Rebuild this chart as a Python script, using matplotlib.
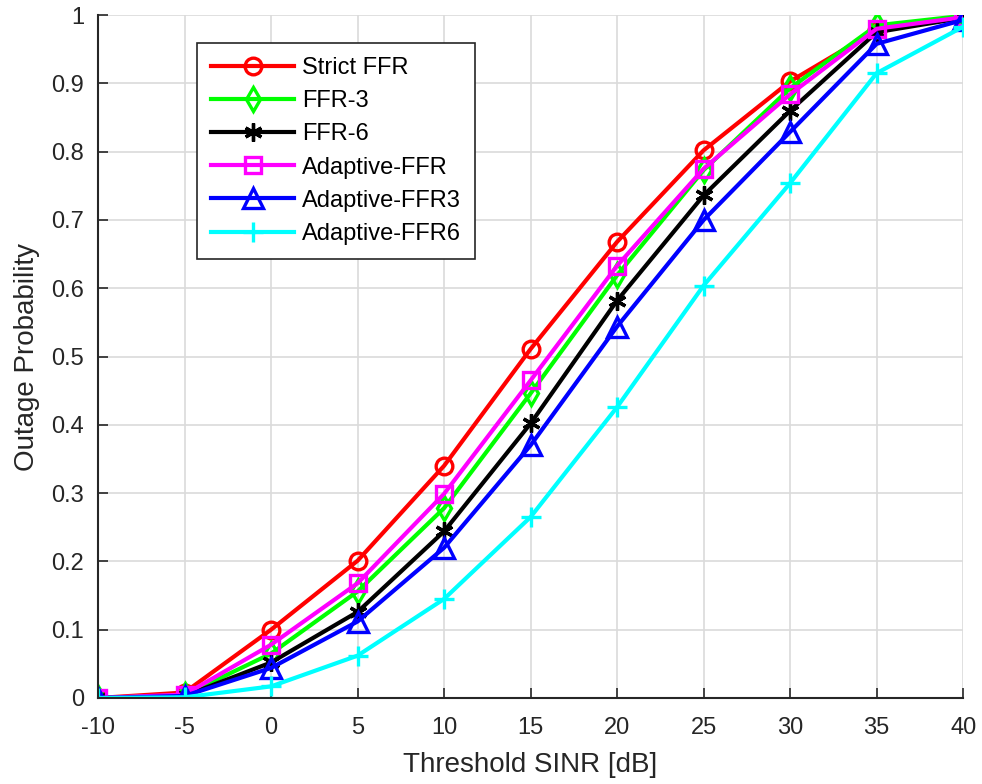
import matplotlib
matplotlib.use("Agg")
import matplotlib.pyplot as plt

plt.rcParams['font.family'] = ['Liberation Sans', 'DejaVu Sans']

sinr = [-10, -5, 0, 5, 10, 15, 20, 25, 30, 35, 40]

strict_ffr = [0.0, 0.008, 0.100, 0.201, 0.340, 0.511, 0.668, 0.802, 0.903, 0.978, 0.998]
ffr3 = [0.0, 0.004, 0.065, 0.156, 0.278, 0.446, 0.619, 0.773, 0.893, 0.985, 0.999]
ffr6 = [0.0, 0.003, 0.052, 0.126, 0.244, 0.402, 0.582, 0.736, 0.860, 0.975, 0.996]
adaptive_ffr = [0.0, 0.005, 0.078, 0.168, 0.299, 0.465, 0.633, 0.775, 0.884, 0.980, 0.997]
adaptive_ffr3 = [0.0, 0.003, 0.044, 0.112, 0.220, 0.370, 0.544, 0.700, 0.829, 0.958, 0.993]
adaptive_ffr6 = [0.0, 0.001, 0.017, 0.062, 0.145, 0.265, 0.426, 0.604, 0.754, 0.915, 0.983]

series = [
    ("Strict FFR", strict_ffr, "#ff0000", "o", 12),
    ("FFR-3", ffr3, "#00ff00", "d", 12),
    ("FFR-6", ffr6, "#000000", (6, 2, 0), 13),
    ("Adaptive-FFR", adaptive_ffr, "#ff00ff", "s", 11),
    ("Adaptive-FFR3", adaptive_ffr3, "#0000ff", "^", 14),
    ("Adaptive-FFR6", adaptive_ffr6, "#00ffff", "+", 14),
]

fig = plt.figure(figsize=(9.82, 7.84), dpi=100)
ax = fig.add_axes([0.0998, 0.1097, 0.881, 0.871])

for name, vals, col, mk, ms in series:
    ax.plot(sinr, vals, color=col, lw=3.0, marker=mk, markersize=ms,
            markerfacecolor='none', markeredgecolor=col, markeredgewidth=2.4,
            label=name)

ax.set_xlim(-10, 40)
ax.set_ylim(0, 1)
ax.set_xticks(sinr)
ax.set_xticklabels([str(v) for v in sinr])
ax.set_yticks([i / 10 for i in range(11)])
ax.set_yticklabels(['0', '0.1', '0.2', '0.3', '0.4', '0.5', '0.6', '0.7', '0.8', '0.9', '1'])
ax.grid(True, color='#dadada', lw=1.2)
ax.set_axisbelow(True)
ax.spines['top'].set_visible(False)
ax.spines['right'].set_visible(False)
for s in ['left', 'bottom']:
    ax.spines[s].set_color('#262626')
    ax.spines[s].set_linewidth(1.5)
ax.tick_params(direction='in', length=7, width=1.2, colors='#262626',
               labelsize=17)
ax.tick_params(axis='x', pad=14)
ax.tick_params(axis='y', pad=10)
ax.set_xlabel('Threshold SINR [dB]', fontsize=20, color='#262626', labelpad=9)
ax.set_ylabel('Outage Probability', fontsize=20, color='#262626', labelpad=8)

leg = ax.legend(loc='upper left', bbox_to_anchor=(0.1145, 0.959), borderaxespad=0,
                fontsize=17, handlelength=3.5, handletextpad=0.35, borderpad=0.6,
                labelspacing=0.47, fancybox=False, framealpha=1.0,
                edgecolor='#262626')
leg.get_frame().set_linewidth(1.2)

fig.savefig('out.png', dpi=100)
